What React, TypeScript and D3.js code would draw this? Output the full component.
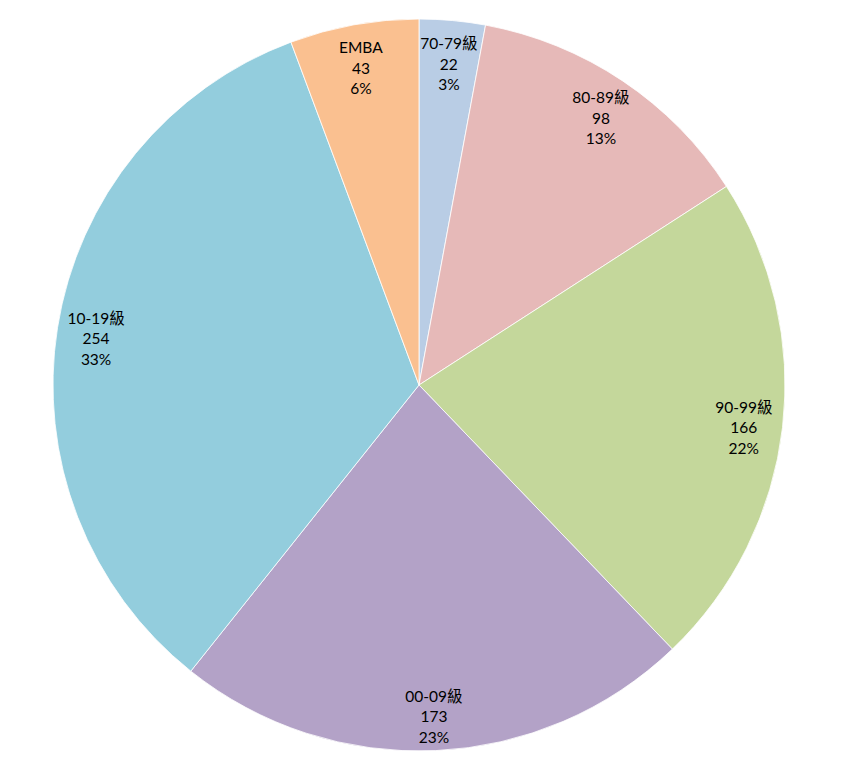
import * as d3 from "d3";

const categories = ["70-79級", "80-89級", "90-99級", "00-09級", "10-19級", "EMBA"];
const counts = [22, 98, 166, 173, 254, 43];
const percents = ["3%", "13%", "22%", "23%", "33%", "6%"];
const colors = ["#B9CDE5", "#E6B9B8", "#C4D79B", "#B3A2C7", "#93CDDD", "#FAC090"];

function PieChart({
  width = 841,
  height = 777,
  cx = 419,
  cy = 385,
  radius = 366,
  labelRadius = 327,
}: {
  width?: number;
  height?: number;
  cx?: number;
  cy?: number;
  radius?: number;
  labelRadius?: number;
}) {
  const idx = d3.range(categories.length);
  const pie = d3
    .pie<number>()
    .sort(null)
    .value(i => counts[i]);
  const arcs = pie(idx);
  const arc = d3.arc<d3.PieArcDatum<number>>().innerRadius(0).outerRadius(radius);
  const labelArc = d3
    .arc<d3.PieArcDatum<number>>()
    .innerRadius(labelRadius)
    .outerRadius(labelRadius);

  return (
    <svg
      width={width}
      height={height}
      style={{ position: "absolute", left: 0, top: 0, background: "#fff" }}
    >
      <g transform={`translate(${cx},${cy})`}>
        {arcs.map(a => (
          <path
            key={a.data}
            d={arc(a) ?? undefined}
            fill={colors[a.data]}
            stroke="#fff"
            strokeWidth={0.8}
          />
        ))}
        {arcs.map(a => {
          const [lx, ly0] = labelArc.centroid(a);
          const ly = ly0 + 5;
          return (
            <text
              key={"t" + a.data}
              x={lx}
              y={ly}
              textAnchor="middle"
              fontFamily="Lato, 'Noto Sans CJK TC', sans-serif"
              fontSize={15.5}
              fill="#000"
            >
              <tspan x={lx} dy={-15}>{categories[a.data]}</tspan>
              <tspan x={lx} dy={20.5}>{counts[a.data]}</tspan>
              <tspan x={lx} dy={20.5}>{percents[a.data]}</tspan>
            </text>
          );
        })}
      </g>
    </svg>
  );
}

export default function App() {
  return (
    <div>
      <PieChart />
    </div>
  );
}
